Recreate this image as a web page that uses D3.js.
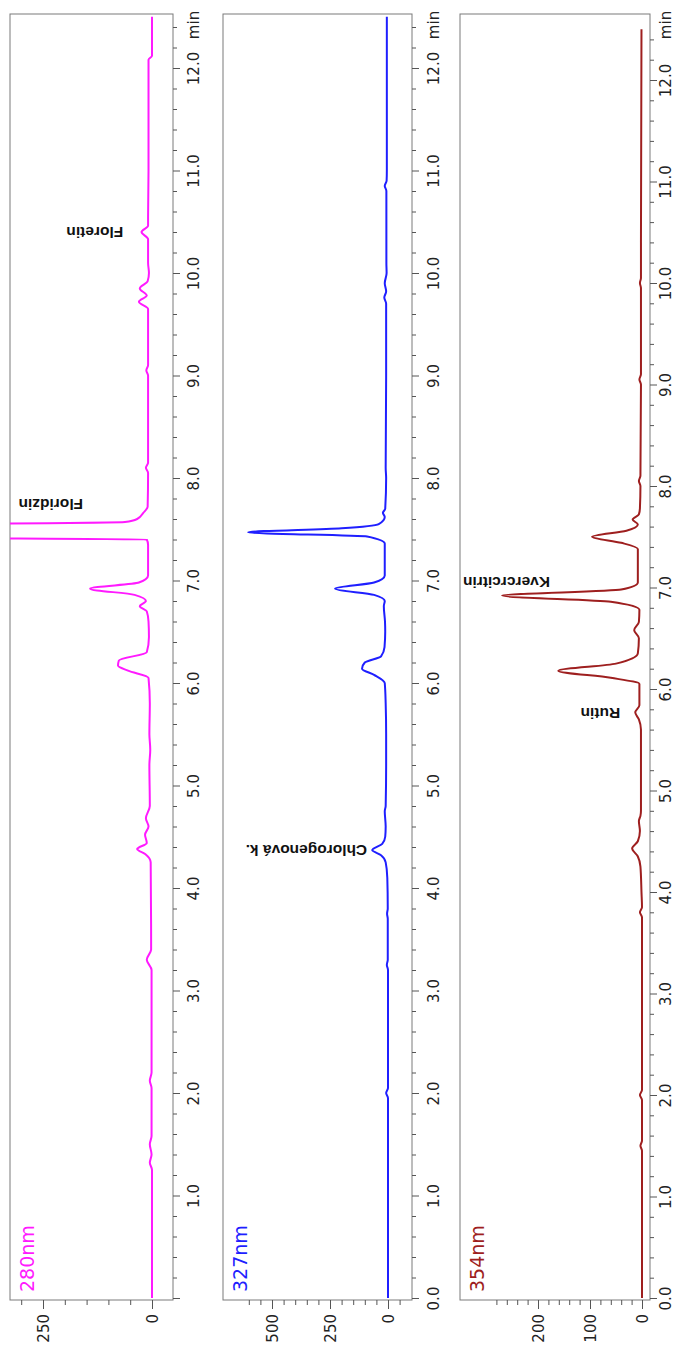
<!DOCTYPE html>
<html>
<head>
<meta charset="utf-8">
<script src="https://cdn.jsdelivr.net/npm/d3@7"></script>
<style>
body { margin: 0; background: #fff; }
</style>
</head>
<body>
<div id="chart"></div>
<script>
// chromatograms - time (min) and signal (mAU)
var time280 = [0.0, 1.25, 1.32, 1.4, 1.5, 1.58, 2.05, 2.12, 2.2, 3.2, 3.3, 3.4, 4.25, 4.33, 4.38, 4.44, 4.52, 4.6, 4.68, 4.8, 5.2, 5.35, 5.5, 5.8, 6.05, 6.12, 6.17, 6.22, 6.3, 6.45, 6.6, 6.7, 6.75, 6.8, 6.86, 6.92, 6.98, 7.05, 7.35, 7.40, 7.42, 7.54, 7.57, 7.60, 7.66, 7.72, 8.05, 8.1, 8.15, 9.0, 9.05, 9.1, 9.65, 9.72, 9.78, 9.85, 9.92, 10.0, 10.1, 10.33, 10.4, 10.46, 10.55, 11.0, 12.08, 12.12, 12.5];
var int280 = [0, 0, 5, 1, 5, 1, 1, 5, 1, 1, 12, 2, 3, 15, 34, 12, 16, 8, 14, 5, 6, 4, 6, 5, 8, 55, 78, 76, 12, 7, 8, 12, 28, 14, 40, 142, 30, 9, 9, 12, 600, 600, 62, 34, 20, 10, 9, 14, 9, 9, 13, 9, 9, 30, 12, 28, 10, 7, 9, 9, 24, 9, 9, 8, 8, 0, 0];

var time327 = [0.0, 1.95, 2.0, 2.05, 3.2, 3.25, 3.3, 3.7, 3.75, 3.8, 4.1, 4.25, 4.32, 4.37, 4.43, 4.5, 4.6, 4.75, 4.8, 5.2, 5.5, 5.8, 6.0, 6.08, 6.14, 6.2, 6.26, 6.35, 6.5, 6.6, 6.75, 6.8, 6.86, 6.92, 6.98, 7.05, 7.36, 7.43, 7.47, 7.51, 7.55, 7.62, 7.66, 7.7, 8.0, 8.1, 9.0, 9.7, 9.76, 9.82, 9.9, 10.0, 10.1, 10.8, 10.85, 10.9, 11.0, 12.5];
var int327 = [0, 0, 8, 0, 0, 5, 1, 1, 4, 1, 3, 10, 30, 68, 25, 12, 10, 14, 10, 8, 8, 10, 14, 60, 112, 100, 30, 15, 12, 13, 18, 14, 60, 228, 60, 14, 14, 90, 603, 200, 40, 14, 22, 12, 8, 10, 8, 8, 16, 8, 14, 6, 7, 7, 14, 6, 5, 5];

var time354 = [0.0, 1.45, 1.5, 1.55, 1.95, 2.0, 2.05, 3.75, 3.8, 3.85, 4.0, 4.25, 4.35, 4.43, 4.5, 4.6, 4.7, 4.75, 4.8, 5.6, 5.7, 5.77, 5.84, 6.05, 6.11, 6.18, 6.25, 6.35, 6.5, 6.58, 6.66, 6.78, 6.86, 6.92, 6.98, 7.05, 7.38, 7.44, 7.5, 7.56, 7.62, 7.67, 7.72, 7.78, 8.0, 8.05, 8.1, 9.0, 9.05, 9.1, 9.95, 10.0, 10.05, 10.4, 12.5];
var int354 = [0, 0, 3, 0, 0, 4, 0, 0, 4, 0, 1, 3, 8, 19, 8, 4, 6, 3, 2, 2, 6, 13, 5, 5, 60, 161, 50, 8, 6, 15, 6, 5, 60, 269, 40, 8, 8, 40, 96, 30, 8, 18, 6, 4, 3, 6, 3, 2, 5, 2, 2, 4, 2, 2, 1];

var panelNames = ["280nm", "327nm", "354nm"];
var panelColors = ["#ff1aff", "#1f1fff", "#9e1f1f"];

// signal axis ticks
var sigTicks280 = [0, 50, 100, 150, 200, 250, 300];
var sigLabels280 = [0, 250];
var sigTicks327 = [-50, 0, 50, 100, 150, 200, 250, 300, 350, 400, 450, 500, 550, 600];
var sigLabels327 = [0, 250, 500];
var sigTicks354 = [0, 20, 40, 60, 80, 100, 120, 140, 160, 180, 200, 220, 240, 260, 280];
var sigLabels354 = [0, 100, 200];

// peak labels: name, panel, time, signal where the text starts
var peakNames = ["Floretin", "Floridzin", "Chlorogenová k.", "Rutin", "Kvercrcitrin"];
var peakPanel = [0, 0, 1, 2, 2];
var peakTimes = [10.4, 7.74, 4.37, 5.76, 7.05];
var peakSignal = [66, 158, 90, 42, 177];

var W = 678, H = 1352;
var boxTop = 14, boxBottom = 1300;

var svg = d3.select("#chart").append("svg")
    .attr("width", W)
    .attr("height", H);

var panels = [
    { t: time280, v: int280, left: 10, right: 173, zeroX: 152, refX: 43, refV: 250, t12: 68, labOff: 21, ticks: sigTicks280, labels: sigLabels280, zeroLabel: false },
    { t: time327, v: int327, left: 223, right: 412, zeroX: 388, refX: 272, refV: 500, t12: 68, labOff: 22, ticks: sigTicks327, labels: sigLabels327, zeroLabel: true },
    { t: time354, v: int354, left: 460, right: 650, zeroX: 642, refX: 538, refV: 200, t12: 80, labOff: 16, ticks: sigTicks354, labels: sigLabels354, zeroLabel: true }
];

var fmt = d3.format(".1f");
var timeTicks = d3.range(0, 63).map(function(i) { return Math.round(i * 2) / 10; });

panels.forEach(function(p, i) {
    var ys = d3.scaleLinear().domain([0, 12]).range([1298, p.t12]);
    var xs = d3.scaleLinear().domain([0, p.refV]).range([p.zeroX, p.refX]);
    var g = svg.append("g");

    // box
    g.append("rect")
        .attr("x", p.left)
        .attr("y", boxTop)
        .attr("width", p.right - p.left)
        .attr("height", boxBottom - boxTop)
        .attr("fill", "none")
        .attr("stroke", "#7a7a7a")
        .attr("stroke-width", 1);

    // time axis on the right side
    var ticksHere = timeTicks.filter(function(d) { return ys(d) > boxTop + 4; });
    var tAxis = g.append("g")
        .attr("transform", "translate(" + p.right + ",0)")
        .call(d3.axisRight(ys)
            .tickValues(ticksHere)
            .tickSize(4)
            .tickFormat(function(d) {
                if (Math.abs(d - Math.round(d)) > 1e-6) return "";
                if (d == 0 && !p.zeroLabel) return "";
                return fmt(d);
            }));
    tAxis.select(".domain").remove();
    tAxis.selectAll(".tick line")
        .attr("stroke", "#555")
        .attr("x2", function(d) { return Math.abs(d - Math.round(d)) < 1e-6 ? 7 : 4; });
    tAxis.selectAll(".tick text")
        .attr("x", 0).attr("y", 0).attr("dy", null)
        .attr("transform", "translate(" + p.labOff + ",0) rotate(-90)")
        .attr("text-anchor", "middle")
        .attr("dominant-baseline", "central")
        .attr("fill", "#222")
        .style("font-family", "DejaVu Sans")
        .style("font-size", "15px");
    tAxis.append("text")
        .attr("transform", "translate(" + p.labOff + ",25) rotate(-90)")
        .attr("text-anchor", "middle")
        .attr("dominant-baseline", "central")
        .attr("fill", "#222")
        .style("font-family", "DejaVu Sans")
        .style("font-size", "15px")
        .text("min");

    // signal axis along the bottom
    var sAxis = g.append("g")
        .attr("transform", "translate(0," + boxBottom + ")")
        .call(d3.axisBottom(xs)
            .tickValues(p.ticks)
            .tickSize(5)
            .tickFormat(function(d) { return p.labels.indexOf(d) >= 0 ? d : ""; }));
    sAxis.select(".domain").remove();
    sAxis.selectAll(".tick line")
        .attr("stroke", "#555")
        .attr("y2", function(d) { return p.labels.indexOf(d) >= 0 ? 9 : 5; });
    sAxis.selectAll(".tick text")
        .attr("x", 0).attr("y", 0).attr("dy", null)
        .attr("transform", "translate(0,14) rotate(-90)")
        .attr("text-anchor", "end")
        .attr("dominant-baseline", "central")
        .attr("fill", "#222")
        .style("font-family", "DejaVu Sans")
        .style("font-size", "15px");

    // trace, clipped to the box
    svg.append("clipPath").attr("id", "clip" + i)
        .append("rect")
        .attr("x", p.left).attr("y", boxTop)
        .attr("width", p.right - p.left).attr("height", boxBottom - boxTop);

    var pts = p.t.map(function(t, k) { return { t: t, v: p.v[k] }; });
    var line = d3.line()
        .x(function(d) { return xs(d.v); })
        .y(function(d) { return ys(d.t); })
        .curve(d3.curveMonotoneY);

    g.append("path")
        .datum(pts)
        .attr("clip-path", "url(#clip" + i + ")")
        .attr("d", line)
        .attr("fill", "none")
        .attr("stroke", panelColors[i])
        .attr("stroke-width", 2)
        .attr("stroke-linejoin", "round");

    // channel name
    g.append("text")
        .attr("transform", "translate(" + (p.left + 17) + "," + 1292 + ") rotate(-90)")
        .attr("text-anchor", "start")
        .attr("dominant-baseline", "central")
        .attr("fill", panelColors[i])
        .style("font-family", "DejaVu Sans")
        .style("font-size", "19px")
        .text(panelNames[i]);

    // peak names (upside down)
    peakNames.forEach(function(name, k) {
        if (peakPanel[k] != i) return;
        g.append("text")
            .attr("transform", "translate(" + xs(peakSignal[k]) + "," + ys(peakTimes[k]) + ") rotate(180)")
            .attr("text-anchor", "start")
            .attr("dominant-baseline", "central")
            .attr("fill", "#111")
            .style("font-family", "Liberation Sans")
            .style("font-weight", "bold")
            .style("font-size", "15.5px")
            .text(name);
    });
});
</script>
</body>
</html>
